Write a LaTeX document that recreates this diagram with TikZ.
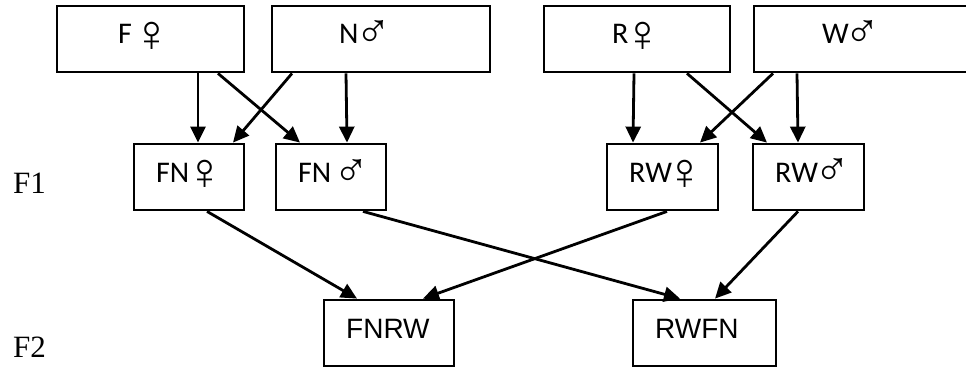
\documentclass[tikz,border=0pt]{standalone}
\usepackage{fontspec}
\setmainfont{Carlito}
\newfontfamily\symfont{Liberation Sans}
\newfontfamily\arialfont{Liberation Sans}
\newfontfamily\timesfont{Liberation Serif}
\usetikzlibrary{arrows.meta}
\begin{document}
\begin{tikzpicture}[x=1pt,y=-1pt,
  box/.style={draw, line width=2.8pt, minimum height=66pt, inner sep=0pt},
  lbl/.style={anchor=base west, inner sep=0pt, font=\fontsize{30}{36}\selectfont},
  fsym/.style={inner sep=0pt, anchor=center, font=\symfont\fontsize{52}{56}\selectfont},
  msym/.style={inner sep=0pt, anchor=center, font=\symfont\fontsize{48}{52}\selectfont},
  albl/.style={anchor=base west, inner sep=0pt, font=\arialfont\fontsize{28}{34}\selectfont},
  glbl/.style={anchor=base west, inner sep=0pt, font=\timesfont\fontsize{31}{37}\selectfont},
  arr/.style={line width=2.8pt, -{Triangle[length=16pt,width=15pt]}}]
\useasboundingbox (0,0) rectangle (966,370);
\clip (0,0) rectangle (966,370);
% parents
\node[box, minimum width=187pt] (F) at (150.5,39) {};
\node[box, minimum width=218pt] (N) at (381,39) {};
\node[box, minimum width=186pt] (R) at (637,39) {};
\node[box, minimum width=218pt] (W) at (863,39) {};
\node[lbl] (tF) at (118,43) {F};
\node[fsym] (sF) at (151.5,36.5) {♀};
\node[lbl] (tN) at (339,43) {N};
\node[msym] (sN) at (373,34) {♂};
\node[lbl] (tR) at (612,43) {R};
\node[fsym] (sR) at (643,36.5) {♀};
\node[lbl] (tW) at (822,43) {W};
\node[msym] (sW) at (862,34) {♂};
% F1
\node[box, minimum width=110pt] (FNf) at (189,177) {};
\node[box, minimum width=110pt] (FNm) at (331,177) {};
\node[box, minimum width=111pt] (RWf) at (662.5,177) {};
\node[box, minimum width=111pt] (RWm) at (808.5,177) {};
\node[lbl] (tFNf) at (156,182) {FN};
\node[fsym] (sFNf) at (205,174.5) {♀};
\node[lbl] (tFNm) at (298,182) {FN};
\node[msym] (sFNm) at (351.5,172.5) {♂};
\node[lbl] (tRWf) at (629,182) {RW};
\node[fsym] (sRWf) at (684.5,174.5) {♀};
\node[lbl] (tRWm) at (775,182) {RW};
\node[msym] (sRWm) at (832,172) {♂};
% F2
\node[box, minimum width=130pt] (FNRW) at (389,333) {};
\node[box, minimum width=143pt] (RWFN) at (704.5,333) {};
\node[albl] (tFNRW) at (346,338) {FNRW};
\node[albl] (tRWFN) at (655,338) {RWFN};
% generation labels
\node[glbl] (g1) at (13,193) {F1};
\node[glbl] (g2) at (13,357) {F2};
% arrows parents -> F1
\draw[arr] ([xshift=47.5pt]F.south) -- ([xshift=9pt]FNf.north);
\draw[arr] ([xshift=67.5pt]F.south) -- ([xshift=-31pt]FNm.north);
\draw[arr] ([xshift=-89pt]N.south) -- ([xshift=44pt]FNf.north);
\draw[arr] ([xshift=-35pt]N.south) -- ([xshift=16pt]FNm.north);
\draw[arr] ([xshift=-3pt]R.south) -- ([xshift=-29.5pt]RWf.north);
\draw[arr] ([xshift=50pt]R.south) -- ([xshift=-41.5pt]RWm.north);
\draw[arr] ([xshift=-90pt]W.south) -- ([xshift=37.5pt]RWf.north);
\draw[arr] ([xshift=-66pt]W.south) -- ([xshift=-10.5pt]RWm.north);
% arrows F1 -> F2
\draw[arr] ([xshift=18pt]FNf.south) -- ([xshift=-32pt]FNRW.north);
\draw[arr] ([xshift=32pt]FNm.south) -- ([xshift=-24.5pt]RWFN.north);
\draw[arr] ([xshift=4.5pt]RWf.south) -- ([xshift=34pt]FNRW.north);
\draw[arr] ([xshift=-10.5pt]RWm.south) -- ([xshift=10.5pt]RWFN.north);
\end{tikzpicture}
\end{document}
